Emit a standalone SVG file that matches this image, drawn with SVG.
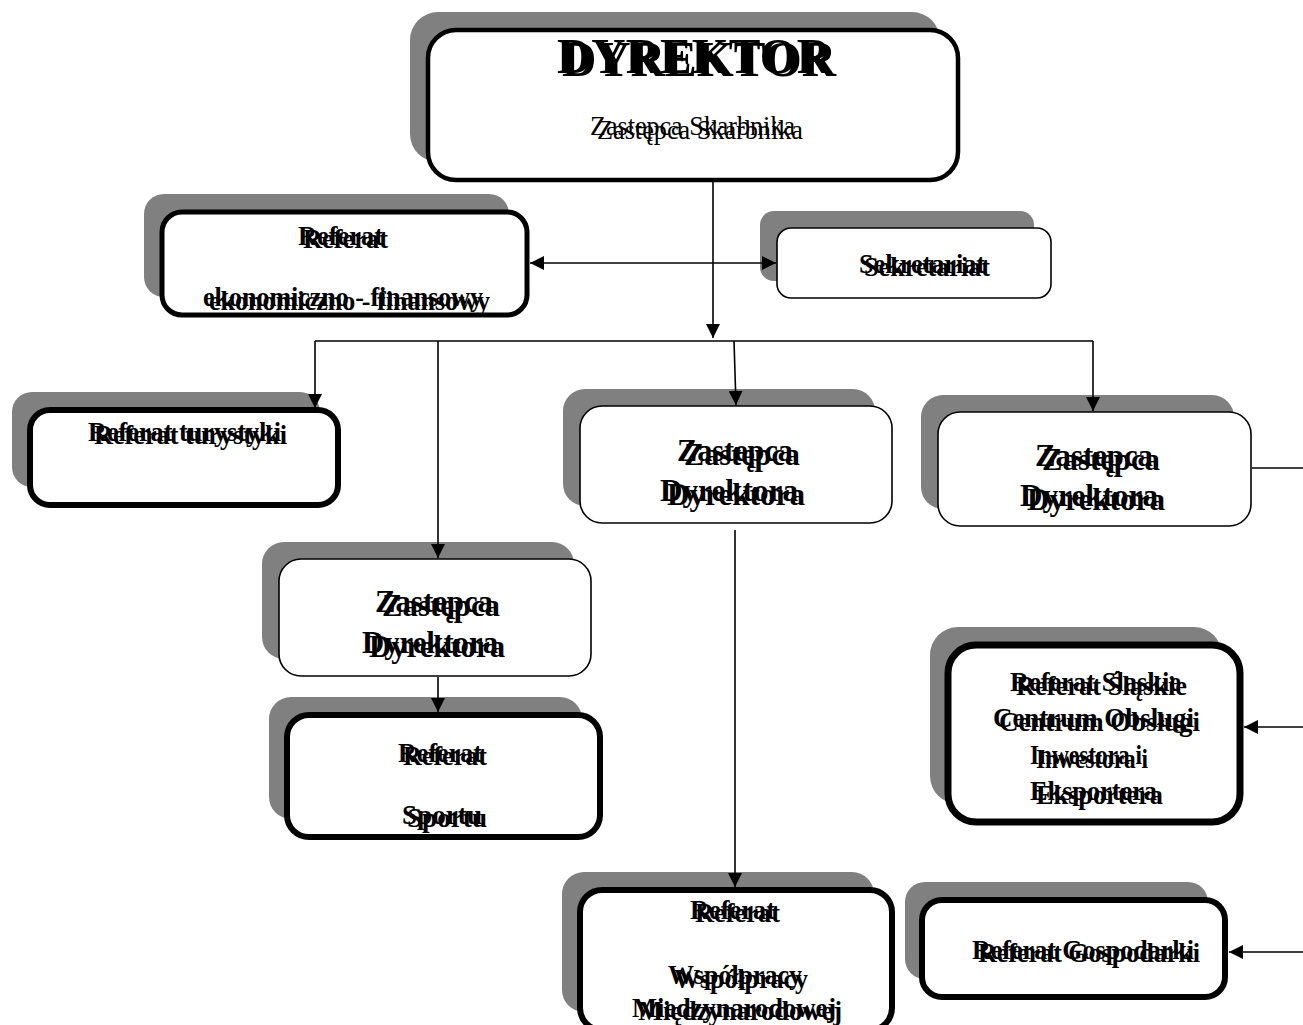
<svg xmlns="http://www.w3.org/2000/svg" width="1303" height="1025" viewBox="0 0 1303 1025">
<style>
.sh{fill:#808080}
.bx{fill:#fff;stroke:#000}
.thin{stroke-width:1.6}
.thick{stroke-width:6}
.c{fill:none;stroke:#000;stroke-width:1.6}
text{font-family:"Liberation Serif","Times New Roman",serif;fill:#000}
.b{font-weight:bold;font-size:28px}
.z{font-weight:bold;font-size:32px}
.r{font-size:28px}
.d{font-weight:bold;font-size:50px}
</style>
<defs>
<marker id="ah" markerUnits="userSpaceOnUse" markerWidth="14" markerHeight="14" refX="14" refY="7" orient="auto-start-reverse">
<path d="M0,0 L14,7 L0,14 z" fill="#000"/>
</marker>
</defs>
<rect width="1303" height="1025" fill="#fff"/>

<g id="dyrektor">
<rect class="sh" x="410" y="12" width="530" height="150" rx="28"/>
<rect class="bx" x="428" y="30" width="530" height="150" rx="28" stroke-width="4.5"/>
<text class="d" x="557" y="73" textLength="274" lengthAdjust="spacingAndGlyphs">DYREKTOR</text>
<text class="d" x="562" y="76" textLength="274" lengthAdjust="spacingAndGlyphs">DYREKTOR</text>
<text class="r" x="590" y="135" textLength="205" lengthAdjust="spacingAndGlyphs">Zastepca Skarbnika</text>
<text class="r" x="597" y="139" textLength="206" lengthAdjust="spacingAndGlyphs">Zastępca Skarbnika</text>
</g>

<g id="referat-ekon">
<rect class="sh" x="144" y="194" width="365" height="103" rx="20"/>
<rect class="bx" x="162" y="212" width="365" height="103" rx="20" stroke-width="5"/>
<text class="b" x="298" y="245" textLength="85" lengthAdjust="spacingAndGlyphs">Referat</text>
<text class="b" x="303" y="248" textLength="85" lengthAdjust="spacingAndGlyphs">Referat</text>
<text class="b" x="203" y="306" textLength="280" lengthAdjust="spacingAndGlyphs">ekonomiczno - finansowy</text>
<text class="b" x="209" y="310" textLength="281" lengthAdjust="spacingAndGlyphs">ekonomiczno - finansowy</text>
</g>

<g id="sekretariat">
<rect class="sh" x="760" y="211" width="274" height="70" rx="14"/>
<rect class="bx thin" x="777" y="228" width="274" height="70" rx="14"/>
<text class="b" x="859" y="273" textLength="126" lengthAdjust="spacingAndGlyphs">Sekretariat</text>
<text class="b" x="864" y="276" textLength="126" lengthAdjust="spacingAndGlyphs">Sekretariat</text>
</g>

<g id="referat-turystyki">
<rect class="sh" x="12" y="392" width="308" height="95" rx="20"/>
<rect class="bx thick" x="30" y="410" width="308" height="95" rx="20"/>
<text class="b" x="88" y="441" textLength="193" lengthAdjust="spacingAndGlyphs">Referat turystyki</text>
<text class="b" x="94" y="444" textLength="193" lengthAdjust="spacingAndGlyphs">Referat turystyki</text>
</g>

<g id="zastepca-center">
<rect class="sh" x="563" y="389" width="312" height="117" rx="22"/>
<rect class="bx thin" x="580" y="406" width="312" height="117" rx="22"/>
<text class="z" x="677" y="461" textLength="116" lengthAdjust="spacingAndGlyphs">Zastepca</text>
<text class="z" x="684" y="465" textLength="116" lengthAdjust="spacingAndGlyphs">Zastępca</text>
<text class="z" x="660" y="501" textLength="138" lengthAdjust="spacingAndGlyphs">Dyrektora</text>
<text class="z" x="667" y="505" textLength="138" lengthAdjust="spacingAndGlyphs">Dyrektora</text>
</g>

<g id="zastepca-right">
<rect class="sh" x="921" y="395" width="313" height="114" rx="22"/>
<rect class="bx thin" x="938" y="412" width="313" height="114" rx="22"/>
<text class="z" x="1035" y="466" textLength="118" lengthAdjust="spacingAndGlyphs">Zastepca</text>
<text class="z" x="1042" y="470" textLength="118" lengthAdjust="spacingAndGlyphs">Zastępca</text>
<text class="z" x="1020" y="506" textLength="138" lengthAdjust="spacingAndGlyphs">Dyrektora</text>
<text class="z" x="1027" y="510" textLength="138" lengthAdjust="spacingAndGlyphs">Dyrektora</text>
</g>

<g id="zastepca-left">
<rect class="sh" x="262" y="542" width="312" height="117" rx="22"/>
<rect class="bx thin" x="279" y="559" width="312" height="117" rx="22"/>
<text class="z" x="375" y="612" textLength="118" lengthAdjust="spacingAndGlyphs">Zastepca</text>
<text class="z" x="382" y="616" textLength="118" lengthAdjust="spacingAndGlyphs">Zastępca</text>
<text class="z" x="362" y="653" textLength="136" lengthAdjust="spacingAndGlyphs">Dyrektora</text>
<text class="z" x="369" y="657" textLength="136" lengthAdjust="spacingAndGlyphs">Dyrektora</text>
</g>

<g id="referat-sportu">
<rect class="sh" x="269" y="697" width="313" height="122" rx="22"/>
<rect class="bx thick" x="287" y="715" width="313" height="122" rx="22"/>
<text class="b" x="398" y="762" textLength="84" lengthAdjust="spacingAndGlyphs">Referat</text>
<text class="b" x="403" y="765" textLength="84" lengthAdjust="spacingAndGlyphs">Referat</text>
<text class="b" x="402" y="824" textLength="80" lengthAdjust="spacingAndGlyphs">Sportu</text>
<text class="b" x="407" y="827" textLength="80" lengthAdjust="spacingAndGlyphs">Sportu</text>
</g>

<g id="referat-wspolpracy">
<rect class="sh" x="562" y="872" width="312" height="140" rx="22"/>
<rect class="bx thick" x="580" y="890" width="312" height="140" rx="22"/>
<text class="b" x="690" y="919" textLength="85" lengthAdjust="spacingAndGlyphs">Referat</text>
<text class="b" x="695" y="922" textLength="85" lengthAdjust="spacingAndGlyphs">Referat</text>
<text class="b" x="668" y="984" textLength="134" lengthAdjust="spacingAndGlyphs">Współpracy</text>
<text class="b" x="674" y="988" textLength="134" lengthAdjust="spacingAndGlyphs">Współpracy</text>
<text class="b" x="632" y="1017" textLength="204" lengthAdjust="spacingAndGlyphs">Miedzynarodowej</text>
<text class="b" x="638" y="1020" textLength="204" lengthAdjust="spacingAndGlyphs">Międzynarodowej</text>
</g>

<g id="referat-slaskie">
<rect class="sh" x="930" y="627" width="292" height="177" rx="28"/>
<rect class="bx" x="948" y="645" width="292" height="177" rx="28" stroke-width="7"/>
<text class="b" x="1010" y="691" textLength="171" lengthAdjust="spacingAndGlyphs">Referat Slaskie</text>
<text class="b" x="1016" y="695" textLength="171" lengthAdjust="spacingAndGlyphs">Referat Śląskie</text>
<text class="b" x="993" y="727" textLength="201" lengthAdjust="spacingAndGlyphs">Centrum Obslugi</text>
<text class="b" x="999" y="731" textLength="201" lengthAdjust="spacingAndGlyphs">Centrum Obsługi</text>
<text class="b" x="1030" y="764" textLength="112" lengthAdjust="spacingAndGlyphs">Inwestora i</text>
<text class="b" x="1036" y="768" textLength="112" lengthAdjust="spacingAndGlyphs">Inwestora i</text>
<text class="b" x="1030" y="800" textLength="127" lengthAdjust="spacingAndGlyphs">Eksportera</text>
<text class="b" x="1036" y="804" textLength="127" lengthAdjust="spacingAndGlyphs">Eksportera</text>
</g>

<g id="referat-gospodarki">
<rect class="sh" x="905" y="882" width="303" height="97" rx="20"/>
<rect class="bx thick" x="922" y="900" width="303" height="97" rx="20"/>
<text class="b" x="972" y="959" textLength="222" lengthAdjust="spacingAndGlyphs">Referat Gospodarki</text>
<text class="b" x="978" y="962" textLength="222" lengthAdjust="spacingAndGlyphs">Referat Gospodarki</text>
</g>

<g id="connectors">
<line class="c" x1="713" y1="182" x2="713" y2="338" marker-end="url(#ah)"/>
<line class="c" x1="315" y1="341" x2="1093" y2="341"/>
<line class="c" x1="315" y1="341" x2="315" y2="408" marker-end="url(#ah)"/>
<line class="c" x1="438" y1="341" x2="438" y2="558" marker-end="url(#ah)"/>
<line class="c" x1="734" y1="341" x2="736" y2="405" marker-end="url(#ah)"/>
<line class="c" x1="1093" y1="341" x2="1093" y2="411" marker-end="url(#ah)"/>
<line class="c" x1="530" y1="263" x2="776" y2="263" marker-start="url(#ah)" marker-end="url(#ah)"/>
<line class="c" x1="438" y1="677" x2="438" y2="712" marker-end="url(#ah)"/>
<line class="c" x1="735" y1="530" x2="735" y2="887" marker-end="url(#ah)"/>
<line class="c" x1="1252" y1="468" x2="1303" y2="468"/>
<line class="c" x1="1303" y1="727" x2="1244" y2="727" marker-end="url(#ah)"/>
<line class="c" x1="1303" y1="952" x2="1229" y2="952" marker-end="url(#ah)"/>
</g>
</svg>
